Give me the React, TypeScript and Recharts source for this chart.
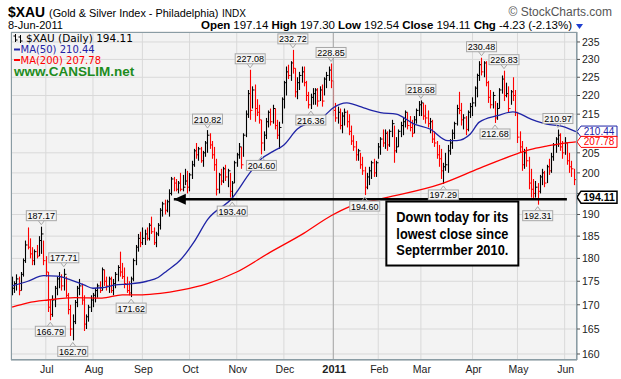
import React from 'react';
import { ComposedChart, Bar, Line, XAxis, YAxis, CartesianGrid, ReferenceLine, ReferenceDot } from 'recharts';

// ---- daily bars: 9-Jun-2010 .. 8-Jun-2011 (trading days) ----
const highs = [
  176, 175, 176.5, 176, 177, 180, 184, 187, 184.5, 182.5, 182, 183, 185, 187.17, 184,
  180.5, 177, 171, 172, 174, 176, 177, 176.5, 177.71, 176, 172.5, 170, 168, 171, 174, 175.5, 174.5, 172, 168, 170, 172,
  172.5, 173.5, 174.5, 175, 178, 177.5, 176, 176, 176, 175.5, 177, 178.5, 181.5, 179, 178, 176, 175, 176, 180, 183, 185.5, 186,
  187, 186.5, 187, 188, 189.5, 187, 186, 188, 191.5, 193, 193.5, 193.5, 196, 199, 199, 198.5, 198, 200, 199.5, 201, 200.5,
  200, 203, 206, 207.5, 206.5, 206.5, 205.5, 208, 210.82, 210, 208, 206.5, 203.5, 200, 201, 201.5, 202, 201, 200, 198, 203,
  205, 207.5, 206.5, 210, 216, 221.5, 227.08, 222.5, 223, 219, 217.5, 213.5, 210.5, 214, 216, 216.5, 217.5, 216.5, 213.5, 213, 219.5,
  224, 228, 228.5, 229.5, 232.72, 227.5, 225, 226.5, 228, 228, 224, 221, 220.5, 222, 222, 222, 222.5, 223, 225, 226.5, 228, 228.85,
  224, 218, 217, 216.5, 215.5, 216.5, 216, 215, 212, 209.5, 208, 206, 205, 204, 201.5, 200, 201.5, 203, 203.5, 203,
  207.5, 209, 211, 211, 210.5, 211, 213.5, 212, 209, 211, 213, 214, 216, 215.5, 214.5, 213.5, 214.5, 216.5, 218.5,
  218.68, 218, 217.5, 216, 214, 213.5, 210.5, 208, 207, 206, 202.5, 205, 207, 208.5, 211, 213, 217.5, 221, 218, 215, 214.5, 216, 218,
  219.5, 222.5, 226, 229.5, 230.48, 229.5, 229.5, 224, 221.5, 221, 218.5, 218, 222, 225.5, 226.83, 223.5, 222.5, 221.5, 225, 221.5,
  215.5, 210.5, 208, 206, 206.5, 204, 201, 198.5, 198, 197.5, 199.5, 201, 200.5, 202, 203.5, 205, 207.5, 209, 210.97, 210, 208,
  209, 207.5, 205, 203, 201, 197.3,
];
const lows = [
  172, 172.5, 173, 172, 173, 176, 179, 182, 180, 178.5, 178.5, 180, 180.5, 181, 178.5,
  176, 168.5, 166.79, 167.5, 169.5, 172, 173.5, 173, 173, 171.5, 168, 163.6, 162.7, 166, 169.5, 172, 170, 164.6, 165, 166.5, 168.5,
  169.5, 170.5, 171.5, 172.5, 173, 174, 173, 172.5, 172.5, 172, 173.5, 175, 176, 175.5, 173.5, 172.5, 172, 171.62, 175, 178.5, 181.5, 182.5,
  183, 183, 184, 184, 185.5, 183, 182.5, 185, 186.5, 189.5, 190, 190.5, 189.5, 194.5, 195.5, 195.5, 195, 195.5, 195.5, 197, 195,
  195.5, 198.5, 201.5, 203.5, 203, 202.5, 201.5, 204, 205, 206, 203.5, 200.5, 194.5, 195, 197, 197.5, 198, 196.5, 194, 193.4, 197.5,
  201.5, 203.5, 201, 204, 209, 214, 213.5, 216.5, 213, 214.5, 212.5, 204.6, 205.5, 208.5, 211.5, 212, 212.5, 211, 208.5, 206, 212.5,
  216.5, 220, 224.5, 224, 226, 219.5, 219, 221.5, 223.5, 222.5, 218.5, 216.5, 216.36, 217.5, 217.5, 217, 218.5, 217, 220, 222, 224, 222,
  214.5, 213, 212.5, 211, 210, 212, 211.5, 209.5, 207, 205.5, 203, 203, 201, 199.5, 194.6, 196, 197, 198.5, 199, 199,
  203.5, 204.5, 206.5, 206, 205.5, 206.5, 209, 202.5, 205, 206.5, 209, 209.5, 211.5, 211, 210.5, 209, 210, 212.5, 214.5,
  214.5, 213.5, 212.5, 211.5, 210, 207.5, 206.5, 203.5, 201.5, 198.5, 197.29, 200.5, 200, 204.5, 206, 208.5, 212, 215, 212, 211, 209.5, 210.5, 214,
  214.5, 217, 219.5, 224, 225.5, 225, 222.5, 218, 216.5, 216.5, 212.68, 213.5, 216.5, 220.5, 218.5, 219.5, 215.5, 217.5, 218.5, 214.5,
  207.5, 205, 200.5, 201, 201.5, 196, 194, 193.5, 194, 192.31, 195, 197, 196.5, 197.5, 199.5, 200, 203, 205, 206.5, 205.5, 203.5,
  204.5, 202, 200, 199, 197, 192.54,
];
const closes = [
  173.5, 174.5, 175.5, 173, 176.5, 179.5, 183, 182.5, 181, 179.5, 181.5, 180.5, 184, 185.5, 179.5,
  177, 169.5, 168, 171, 173.5, 175.5, 176, 174, 176.5, 172, 169, 165, 166.5, 170.5, 173.5, 174, 171, 166, 167.5, 169.5, 171,
  172, 173, 174, 173, 177.5, 175, 174, 175.5, 173, 174.5, 176.5, 178, 177, 176, 174.5, 173, 172.5, 175.5, 179.5, 182.5, 184.5, 183.5,
  184.5, 185.5, 184.5, 187.5, 186, 183.5, 185.5, 187.5, 191, 192.5, 191, 193, 195, 198.5, 197.5, 196, 197.5, 196, 196.5, 198, 196.5,
  199.5, 202, 205.5, 204.5, 206, 203, 205, 207.5, 209.5, 207, 204.5, 202, 196, 199.5, 198, 201, 199, 200.5, 195.5, 197.5, 202.5,
  204.5, 206.5, 202, 209.5, 215, 220.5, 216, 221.5, 216.5, 215.5, 213.5, 207.5, 209.5, 213, 215.5, 213, 216.5, 212, 209.5, 211.5, 219,
  223.5, 226.5, 225.5, 229, 227.5, 221, 223.5, 225.5, 226.5, 223.5, 220, 217.5, 219.5, 220.5, 221.5, 218.5, 221.5, 218.5, 224.5, 225.5, 227, 224,
  216, 214, 215.5, 212, 214.5, 215.5, 213, 210.5, 208, 206.5, 204.5, 205.5, 202, 200.5, 196.5, 199, 200.5, 202.5, 200, 202.5,
  206.5, 208.5, 207.5, 210, 207, 210.5, 212.5, 205.5, 206.5, 210.5, 212, 213, 215.5, 212, 211.5, 210, 213.5, 216, 217.5,
  218, 214.5, 214, 212.5, 213, 208.5, 207.5, 204.5, 203.5, 200.5, 201.5, 202, 205.5, 207.5, 210, 212.5, 216.5, 216, 213.5, 214, 211, 215.5, 217,
  218, 222, 225.5, 228.5, 226.5, 229, 223.5, 219.5, 217.5, 220, 214, 216.5, 221.5, 224.5, 220, 220.5, 216.5, 221, 220, 215.5,
  209, 206.5, 202, 205, 203, 197.5, 196, 195, 196.5, 195.5, 199, 200, 197.5, 201.5, 200.5, 204, 207, 208.5, 209.5, 206.5, 205,
  207.5, 203, 201.5, 201, 198.34, 194.11,
];

// month starts (trading-day index) and labels
const monthTicks = [15, 36, 58, 79, 100, 121, 143, 163, 182, 205, 225, 246];
const monthLabels = ['Jul', 'Aug', 'Sep', 'Oct', 'Nov', 'Dec', '2011', 'Feb', 'Mar', 'Apr', 'May', 'Jun'];

// moving averages at sample days
const ma50Days = [0, 7, 14, 20, 26, 32, 36, 40, 46, 52, 60, 65, 69, 75, 81, 87, 98, 106, 111, 116, 121, 127, 133, 139, 143, 149, 152, 156, 160, 164, 171, 179, 186, 194, 198, 204, 208, 216, 223, 231, 238, 245, 251];
const ma50Vals = [174.0, 175.0, 176.2, 176.1, 175.3, 174.2, 173.5, 173.6, 174.2, 174.4, 175.0, 175.8, 177.3, 179.7, 183.7, 188.8, 193.9, 200.1, 203.5, 205.3, 207.0, 211.1, 212.9, 214.6, 216.7, 218.0, 217.6, 216.8, 216.0, 215.4, 215.0, 212.4, 211.1, 208.1, 208.1, 209.8, 212.9, 214.6, 215.6, 213.7, 212.4, 211.8, 210.44];
const ma200Days = [0, 7, 16, 28, 40, 49, 58, 66, 75, 87, 100, 115, 130, 142, 150, 166, 191, 208, 225, 231, 238, 245, 251];
const ma200Vals = [169.5, 170.4, 171.0, 171.5, 171.4, 172.1, 172.1, 172.4, 173.1, 174.5, 177.0, 181.4, 185.7, 189.7, 191.8, 193.9, 197.3, 201.1, 204.8, 205.9, 206.7, 207.4, 207.78];

// labelled highs / lows
const annDays = [13, 23, 17, 27, 53, 87, 98, 106, 111, 125, 133, 142, 157, 182, 192, 209, 215, 219, 234, 243];
const annText = ['187.17', '177.71', '166.79', '162.70', '171.62', '210.82', '193.40', '227.08', '204.60', '232.72', '216.36', '228.85', '194.60', '218.68', '197.29', '230.48', '212.68', '226.83', '192.31', '210.97'];
const annSide = ['up', 'up', 'down', 'down', 'down', 'up', 'down', 'up', 'down', 'up', 'down', 'up', 'down', 'up', 'down', 'up', 'down', 'up', 'down', 'up'];

const yTicks = [160, 165, 170, 175, 180, 185, 190, 195, 200, 205, 210, 215, 220, 225, 230, 235];
const lastClose = 194.11;
const lastMa50 = 210.44;
const lastMa200 = 207.78;
const supportLevel = 193.6;
const tagValues = [lastClose, lastMa50];

const data = closes.map((c, i) => ({
  i,
  range: [lows[i], highs[i]],
  high: highs[i],
  low: lows[i],
  close: c,
  down: i > 0 && c < closes[i - 1],
  ma50: null as number | null,
  ma200: null as number | null,
}));
ma50Days.forEach((d, k) => { data[d].ma50 = ma50Vals[k]; });
ma200Days.forEach((d, k) => { data[d].ma200 = ma200Vals[k]; });

const SANS = '"Liberation Sans", Arial, sans-serif';
const VERD = '"DejaVu Sans", Verdana, sans-serif';

// a tick label is hidden where a value tag covers it (as on the original)
const yTickFormat = (v: number) =>
  tagValues.some((t) => Math.abs(Math.log(v / t)) * 811 < 7) ? '' : String(v);

const BarShape = (props: any) => {
  const { x, y, width, height, payload } = props;
  if (x == null || y == null || !payload) return null;
  const cx = Math.round(x + width / 2) + 0.5;
  const lh = Math.log(payload.high);
  const ll = Math.log(payload.low);
  const cy = y + (height * (lh - Math.log(payload.close))) / (lh - ll || 1);
  const col = payload.down ? '#ff0000' : '#000000';
  return (
    <g>
      <line x1={cx} x2={cx} y1={y} y2={y + height} stroke={col} strokeWidth={1.1} />
      <line x1={cx} x2={cx + 2} y1={cy} y2={cy} stroke={col} strokeWidth={1} />
    </g>
  );
};

const makeAnn = (text: string, side: string) => (p: any) => {
  const { cx, cy } = p;
  if (cx == null || cy == null) return null;
  const w = 30;
  const h = 10;
  const gap = 6;
  const top = side === 'up' ? cy - gap - h : cy + gap;
  const notchY = side === 'up' ? top + h : top;
  const tip = side === 'up' ? cy - 2 : cy + 2;
  return (
    <g>
      <rect x={cx - w / 2} y={top} width={w} height={h} fill="#f4f4f4" stroke="#a8a8a8" strokeWidth={1} />
      <polyline points={`${cx - 3},${notchY} ${cx},${tip} ${cx + 3},${notchY}`} fill="none" stroke="#a8a8a8" strokeWidth={1} />
      <text x={cx} y={top + h - 1.5} textAnchor="middle" fontSize={9} fontFamily={SANS} fill="#000">{text}</text>
    </g>
  );
};

const makeValueTag = (text: string, color: string, bold: boolean) => (p: any) => {
  const { cx, cy } = p;
  if (cx == null || cy == null) return null;
  const x0 = 577;
  const h = bold ? 12 : 11;
  return (
    <g>
      <polygon
        points={`${x0},${cy} ${x0 + 4},${cy - h / 2} ${x0 + 40},${cy - h / 2} ${x0 + 40},${cy + h / 2} ${x0 + 4},${cy + h / 2}`}
        fill="#ffffff"
        stroke={color}
        strokeWidth={bold ? 1.5 : 1}
      />
      <text x={x0 + 22} y={cy + 3.6} textAnchor="middle" fontSize={bold ? 10.5 : 10} fontWeight={bold ? 'bold' : 'normal'} fontFamily={SANS} fill={color}>{text}</text>
    </g>
  );
};

const ArrowHead = (p: any) => {
  const { cx, cy } = p;
  if (cx == null) return null;
  return <polygon points={`${cx},${cy} ${cx + 12},${cy - 5.5} ${cx + 12},${cy + 5.5}`} fill="#000" />;
};

const NoteBox = (p: any) => {
  const { cx, cy } = p;
  if (cx == null) return null;
  return (
    <g>
      <rect x={cx - 66} y={cy - 32} width={132} height={64} fill="#ffffff" stroke="#000" strokeWidth={2} />
      <text x={cx} y={cy - 12} textAnchor="middle" fontSize={14} fontWeight="bold" fontFamily={SANS} textLength={112} lengthAdjust="spacingAndGlyphs">Down today for its</text>
      <text x={cx} y={cy + 5} textAnchor="middle" fontSize={14} fontWeight="bold" fontFamily={SANS} textLength={112} lengthAdjust="spacingAndGlyphs">lowest close since</text>
      <text x={cx} y={cy + 21} textAnchor="middle" fontSize={14} fontWeight="bold" fontFamily={SANS} textLength={112} lengthAdjust="spacingAndGlyphs">Septerrmber 2010.</text>
    </g>
  );
};

const XTick = (p: any) => {
  const { x, y, payload } = p;
  const idx = monthTicks.indexOf(payload.value);
  const label = idx >= 0 ? monthLabels[idx] : '';
  const bold = label === '2011';
  return (
    <text x={x + 1} y={y + 13} textAnchor="middle" fontSize={bold ? 11 : 10.5} fontWeight={bold ? 'bold' : 'normal'} fontFamily={SANS} fill="#222">{label}</text>
  );
};

export default function App() {
  return (
    <div style={{ position: 'absolute', left: 0, top: 0, width: 621, height: 379, background: '#fff' }}>
      <div style={{ position: 'absolute', left: 11, top: 32, width: 566, height: 328, background: '#f3f3f3' }} />
      <ComposedChart
        width={621}
        height={379}
        data={data}
        margin={{ top: 32, right: 0, bottom: 0, left: 11 }}
        barCategoryGap={0}
        style={{ position: 'absolute', left: 0, top: 0 }}
      >
        <CartesianGrid stroke="#d9d9d9" strokeWidth={1} />
        <XAxis
          dataKey="i"
          type="category"
          ticks={monthTicks}
          interval={0}
          tick={<XTick />}
          tickLine={false}
          tickSize={0}
          tickMargin={0}
          height={19}
          axisLine={{ stroke: '#8a9ca4' }}
        />
        <YAxis
          orientation="right"
          scale="log"
          domain={[158.82, 237.9]}
          allowDataOverflow
          ticks={yTicks}
          interval={0}
          width={44}
          tickSize={3}
          tickMargin={2}
          tickFormatter={yTickFormat}
          tickLine={{ stroke: '#555' }}
          axisLine={{ stroke: '#8a9ca4' }}
          tick={{ fontSize: 10.5, fill: '#222', fontFamily: SANS, textAnchor: 'start' }}
        />
        <ReferenceLine x={143} stroke="#a8a8a8" strokeWidth={1} />
        <Line dataKey="ma200" type="monotone" stroke="#ff0000" strokeWidth={1.3} dot={false} connectNulls isAnimationActive={false} />
        <Line dataKey="ma50" type="monotone" stroke="#1f24a6" strokeWidth={1.3} dot={false} connectNulls isAnimationActive={false} />
        <Bar dataKey="range" shape={<BarShape />} isAnimationActive={false} />
        <ReferenceLine
          segment={[{ x: 72, y: supportLevel }, { x: 247, y: supportLevel }]}
          stroke="#000"
          strokeWidth={2.5}
        />
        <ReferenceDot x={72} y={supportLevel} shape={<ArrowHead />} ifOverflow="visible" />
        {annDays.map((d, k) => (
          <ReferenceDot
            key={'a' + k}
            x={d}
            y={annSide[k] === 'up' ? highs[d] : lows[d]}
            ifOverflow="visible"
            shape={makeAnn(annText[k], annSide[k])}
          />
        ))}
        <ReferenceDot x={196} y={185.6} shape={<NoteBox />} ifOverflow="visible" />
        <ReferenceDot x={251} y={lastMa50} shape={makeValueTag(lastMa50.toFixed(2), '#1f24a6', false)} ifOverflow="visible" />
        <ReferenceDot x={251} y={lastMa200} shape={makeValueTag(lastMa200.toFixed(2), '#ff0000', false)} ifOverflow="visible" />
        <ReferenceDot x={251} y={lastClose} shape={makeValueTag(lastClose.toFixed(2), '#000000', true)} ifOverflow="visible" />
      </ComposedChart>
      <div style={{ position: 'absolute', left: 11, top: 32, width: 566, height: 328, border: '1px solid #8a9ca4', boxSizing: 'border-box', pointerEvents: 'none' }} />
      <svg width={621} height={379} style={{ position: 'absolute', left: 0, top: 0, pointerEvents: 'none' }}>
        <text x={8} y={17} fontFamily={SANS} fontSize={15} fontWeight="bold" fill="#000" textLength={37} lengthAdjust="spacingAndGlyphs">$XAU</text>
        <text x={49} y={17} fontFamily={SANS} fontSize={10.9} fill="#000">(Gold &amp; Silver Index - Philadelphia)</text>
        <text x={222} y={17} fontFamily={SANS} fontSize={10} fill="#000">INDX</text>
        <text x={612} y={16} textAnchor="end" fontFamily={SANS} fontSize={12} fill="#555">© StockCharts.com</text>
        <text x={8} y={29} fontFamily={SANS} fontSize={11} fill="#000">8-Jun-2011</text>
        <text x={201} y={29} fontFamily={SANS} fontSize={11.5} fill="#000" textLength={371} lengthAdjust="spacing">
          <tspan fontWeight="bold">Open</tspan> 197.14 <tspan fontWeight="bold">High</tspan> 197.30 <tspan fontWeight="bold">Low</tspan> 192.54 <tspan fontWeight="bold">Close</tspan> 194.11 <tspan fontWeight="bold">Chg</tspan> -4.23 (-2.13%)
        </text>
        <polygon points="576,24 583,24 579.5,29" fill="#1f3fd0" />
        {/* legend */}
        <line x1={15.5} x2={15.5} y1={34} y2={42} stroke="#000" />
        <line x1={13.5} x2={15.5} y1={36} y2={36} stroke="#000" />
        <line x1={15.5} x2={17.5} y1={40} y2={40} stroke="#000" />
        <line x1={20.5} x2={20.5} y1={35} y2={43} stroke="#000" />
        <line x1={18.5} x2={20.5} y1={37} y2={37} stroke="#000" />
        <line x1={20.5} x2={22.5} y1={41} y2={41} stroke="#000" />
        <text x={26} y={42} fontFamily={VERD} fontSize={10.5} fill="#000">$XAU (Daily) 194.11</text>
        <line x1={14} x2={20} y1={49.5} y2={49.5} stroke="#1f24a6" strokeWidth={2} />
        <text x={20.5} y={53} fontFamily={VERD} fontSize={10} fill="#1f24a6">MA(50) 210.44</text>
        <line x1={14} x2={20} y1={60} y2={60} stroke="#ff0000" strokeWidth={2} />
        <text x={20.5} y={63.5} fontFamily={VERD} fontSize={10} fill="#ff0000">MA(200) 207.78</text>
        <text x={14} y={76} fontFamily={SANS} fontSize={13.5} fontWeight="bold" fill="#1e8c1e">www.CANSLIM.net</text>
      </svg>
    </div>
  );
}
